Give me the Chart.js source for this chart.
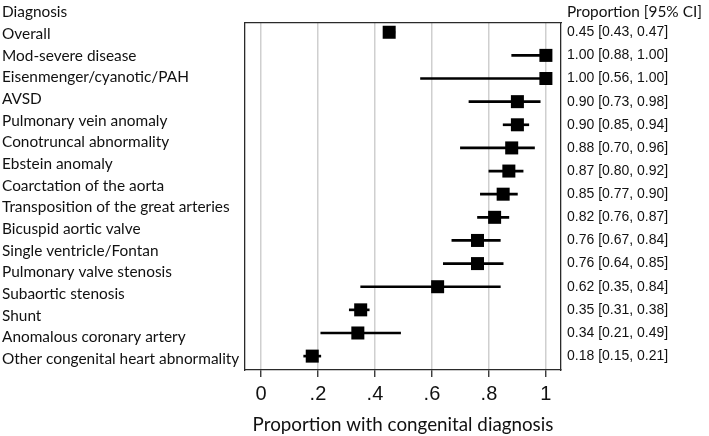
<!DOCTYPE html>
<html>
<head>
<meta charset="utf-8">
<script src="https://cdn.jsdelivr.net/npm/chart.js@4.4.0/dist/chart.umd.min.js"></script>
<style>
  body { margin: 0; background: #fff; }
</style>
</head>
<body>
<canvas id="forest" width="709" height="436"></canvas>
<script>
const diagnoses = [
  "Overall", "Mod-severe disease", "Eisenmenger/cyanotic/PAH", "AVSD",
  "Pulmonary vein anomaly", "Conotruncal abnormality", "Ebstein anomaly",
  "Coarctation of the aorta", "Transposition of the great arteries",
  "Bicuspid aortic valve", "Single ventricle/Fontan", "Pulmonary valve stenosis",
  "Subaortic stenosis", "Shunt", "Anomalous coronary artery",
  "Other congenital heart abnormality"
];
const proportion = [0.45, 1.00, 1.00, 0.90, 0.90, 0.88, 0.87, 0.85, 0.82, 0.76, 0.76, 0.62, 0.35, 0.34, 0.18];
const ciLow      = [0.43, 0.88, 0.56, 0.73, 0.85, 0.70, 0.80, 0.77, 0.76, 0.67, 0.64, 0.35, 0.31, 0.21, 0.15];
const ciHigh     = [0.47, 1.00, 1.00, 0.98, 0.94, 0.96, 0.92, 0.90, 0.87, 0.84, 0.85, 0.84, 0.38, 0.49, 0.21];
const xTicks = [0, 0.2, 0.4, 0.6, 0.8, 1];
const xTickLabels = ["0", ".2", ".4", ".6", ".8", "1"];

const ciText = proportion.map((p, i) =>
  `${p.toFixed(2)} [${ciLow[i].toFixed(2)}, ${ciHigh[i].toFixed(2)}]`);

const ink = "#111";
const boxColor = "#2a2a2a";

// header texts above the label and value columns
const headers = {
  id: "headers",
  afterDraw(chart) {
    const c = chart.ctx;
    c.save();
    c.fillStyle = ink;
    c.font = "15.4px Lato";
    c.textBaseline = "middle";
    c.textAlign = "left";
    c.fillText("Diagnosis", 2, 12);
    c.fillText("Proportion [95% CI]", 567, 12);
    c.restore();
  }
};

new Chart(document.getElementById("forest"), {
  type: "scatter",
  data: {
    datasets: [
      {
        label: "Proportion",
        data: proportion.map((p, i) => ({ x: p, y: i })),
        xAxisID: "x",
        yAxisID: "yData",
        pointStyle: "rect",
        pointRadius: 9.2,
        pointHoverRadius: 9.2,
        backgroundColor: "#000",
        borderWidth: 0,
        order: 0
      },
      {
        type: "bar",
        label: "95% CI",
        indexAxis: "y",
        data: ciLow.map((lo, i) => ({ x: [lo, ciHigh[i]], y: i })),
        xAxisID: "x",
        yAxisID: "yData",
        backgroundColor: "#000",
        borderWidth: 0,
        barThickness: 2,
        order: 1
      }
    ]
  },
  options: {
    responsive: false,
    animation: false,
    layout: { padding: { left: 2, top: 23, right: 0, bottom: 0 } },
    plugins: {
      legend: { display: false },
      tooltip: { enabled: false }
    },
    scales: {
      x: {
        type: "linear",
        position: "bottom",
        min: -0.056,
        max: 1.053,
        afterBuildTicks: s => { s.ticks = xTicks.map(v => ({ value: v })); },
        afterFit: s => { s.height = 66; },
        ticks: {
          callback: (v, i) => xTickLabels[i],
          font: { family: "Liberation Sans", size: 20 },
          color: ink,
          padding: 5,
          maxRotation: 0,
          autoSkip: false
        },
        grid: { color: "#cfcfcf", lineWidth: 1.5, tickColor: boxColor, tickWidth: 1.3, tickLength: 7 },
        border: { color: boxColor, width: 1.3 },
        title: {
          display: true,
          text: "Proportion with congenital diagnosis",
          font: { family: "Lato", size: 18.8 },
          color: ink,
          padding: { top: 0, bottom: 0 }
        }
      },
      xTop: {
        type: "linear",
        axis: "x",
        position: "top",
        afterFit: s => { s.height = 0; },
        ticks: { display: false },
        grid: { display: false, drawTicks: false },
        border: { color: boxColor, width: 1.3 }
      },
      yData: {
        type: "linear",
        axis: "y",
        display: false,
        offset: false,
        min: -0.4,
        max: 14.6,
        reverse: true,
        grid: { offset: false }
      },
      yLab: {
        type: "category",
        axis: "y",
        position: "left",
        labels: diagnoses,
        offset: true,
        afterFit: s => { s.width = 243; },
        ticks: {
          crossAlign: "far",
          font: { family: "Lato", size: 15.4 },
          color: ink,
          padding: 0,
          autoSkip: false
        },
        grid: { display: false, drawTicks: false },
        border: { color: boxColor, width: 1.3 }
      },
      yR: {
        type: "linear",
        axis: "y",
        position: "right",
        min: -0.4,
        max: 14.6,
        reverse: true,
        offset: false,
        afterBuildTicks: s => { s.ticks = ciText.map((t, i) => ({ value: i })); },
        afterFit: s => { s.width = 148; },
        ticks: {
          callback: (v, i) => ciText[i],
          font: { family: "Liberation Sans", size: 14 },
          color: ink,
          padding: 6,
          autoSkip: false
        },
        grid: { display: false, drawTicks: false },
        border: { color: boxColor, width: 1.3 }
      }
    }
  },
  plugins: [headers]
});
</script>
</body>
</html>
